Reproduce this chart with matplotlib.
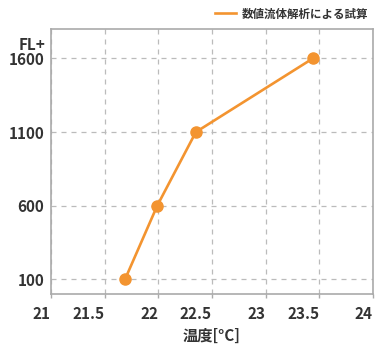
import matplotlib.pyplot as plt

plt.rcParams['font.family'] = ['Noto Sans CJK JP', 'DejaVu Sans']

# === DATA ===
temps = [21.69, 21.99, 22.35, 23.44]
fl_values = [100, 600, 1100, 1600]
series_name = "数値流体解析による試算"
x_ticks = [21, 21.5, 22, 22.5, 23, 23.5, 24]
x_tick_labels = ["21", "21.5", "22", "22.5", "23", "23.5", "24"]
y_ticks = [100, 600, 1100, 1600]

ORANGE = "#F39430"
GRID = "#BBBBBB"
TEXT = "#333333"

fig = plt.figure(figsize=(3.76, 3.49), dpi=100)
ax = fig.add_axes([0.1356, 0.1576, 0.8564, 0.7594])

ax.plot(temps, fl_values, color=ORANGE, lw=1.9, marker="o", markersize=8,
        label=series_name, zorder=3)

ax.set_xlim(21, 24)
ax.set_ylim(0, 1800)
ax.set_xticks(x_ticks)
ax.set_xticklabels(x_tick_labels, ha="right")
ax.set_yticks(y_ticks)

ax.grid(True, color=GRID, linestyle=(0, (4, 4)), linewidth=0.9)
for s in ax.spines.values():
    s.set_color("#AAAAAA")
    s.set_linewidth(1.2)

ax.tick_params(axis="x", length=3, width=1, color="#AAAAAA", pad=6,
               labelsize=11, labelcolor=TEXT)
ax.tick_params(axis="y", length=0, pad=5, labelsize=11, labelcolor=TEXT)
for lab in ax.get_xticklabels() + ax.get_yticklabels():
    lab.set_fontweight("bold")

ax.set_xlabel("温度[°C]", fontsize=11, color=TEXT, labelpad=4, fontweight="bold")
fig.text(45 / 376, 1 - 45 / 349, "FL+", ha="right", va="center",
         fontsize=11, color=TEXT, fontweight="bold")

leg = fig.legend(loc="upper right", bbox_to_anchor=(1.0, 1.0), frameon=False,
                 fontsize=8.3, handlelength=1.8, handletextpad=0.5,
                 borderaxespad=0.25)
for t in leg.get_texts():
    t.set_color(TEXT)
    t.set_fontweight("bold")
leg.legend_handles[0].set_marker("")

fig.savefig("out.png", dpi=100)
